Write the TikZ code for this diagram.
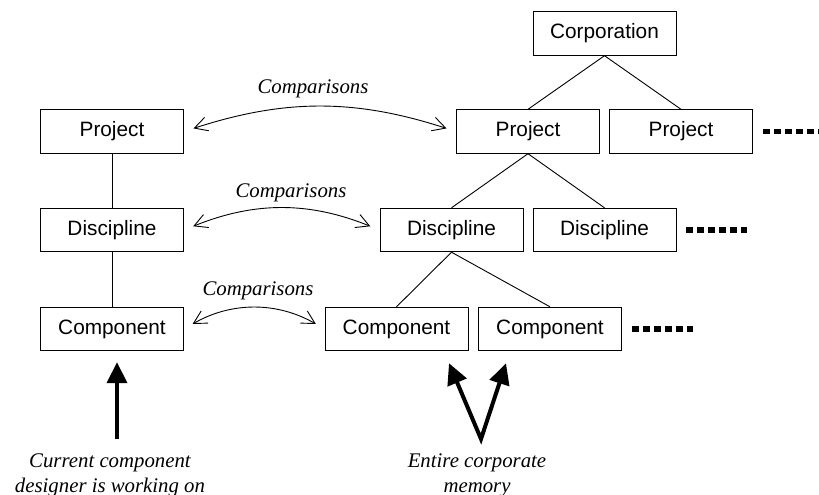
\documentclass[tikz,border=0pt]{standalone}
\usepackage{fontspec}
\setmainfont{Liberation Serif}
\setsansfont{Liberation Sans}
\usetikzlibrary{arrows.meta}

\begin{document}
\begin{tikzpicture}[x=1pt,y=-1pt,
    box/.style={draw,line width=0.9pt,minimum width=143pt,minimum height=43.5pt,
      inner sep=0pt,font=\sffamily\fontsize{20.8}{25}\selectfont},
    lbl/.style={font=\itshape\fontsize{20.8}{25}\selectfont,anchor=base},
    cmp/.style={line width=0.9pt,
      {Straight Barb[length=13pt,width=14pt]}-{Straight Barb[length=13pt,width=14pt]},
      shorten <=10pt,shorten >=10pt},
    bigarrow/.style={line width=4pt,line join=miter},
    dotrow/.style={line width=5.5pt,dash pattern=on 6.5pt off 4.4pt}]
    \useasboundingbox (0,0) rectangle (819,495);
    % left column: the one being worked on
    \node[box] (lproj) at (112,131.5) {Project};
    \node[box] (ldisc) at (112,230) {Discipline};
    \node[box] (lcomp) at (112,329) {Component};
    \draw[line width=0.9pt] (lproj) -- (ldisc) -- (lcomp);
    % corporate tree
    \node[box] (corp) at (604.5,33.5) {Corporation};
    \node[box] (proj1) at (528,131.5) {Project};
    \node[box] (proj2) at (681,131.5) {Project};
    \node[box] (disc1) at (451.5,230) {Discipline};
    \node[box] (disc2) at (604.5,230) {Discipline};
    \node[box] (comp1) at (396.5,329) {Component};
    \node[box] (comp2) at (550,329) {Component};
    \foreach \a/\b in {corp/proj1,corp/proj2,proj1/disc1,proj1/disc2,disc1/comp1,disc1/comp2}
    \draw[line width=0.9pt] (\a.south) -- (\b.north);
    \draw[dotrow] ([xshift=10.5pt]proj2.east) -- +(56,0);
    \draw[dotrow] ([xshift=10pt]disc2.east) -- +(61,0);
    \draw[dotrow] ([xshift=10.5pt]comp2.east) -- +(61,0);
    % comparisons
    \draw[cmp] (lproj.east) to[bend left=18] (proj1.west);
    \draw[cmp] (ldisc.east) to[bend left=22] (disc1.west);
    \draw[cmp] (lcomp.east) to[bend left=30] (comp1.west);
    \node[lbl] (cmptop) at (313,93) {Comparisons};
    \node[lbl] (cmpmid) at (291,197) {Comparisons};
    \node[lbl] (cmpbot) at (258,295) {Comparisons};
    % pointers from below
    \coordinate (cur) at (117,439);
    \coordinate (mem) at (481,439);
    \draw[bigarrow,-{Triangle[length=21pt,width=20pt]}] (cur) -- ([shift={(5pt,-11pt)}]lcomp.south);
    \draw[bigarrow,{Triangle[length=21pt,width=20pt]}-{Triangle[length=21pt,width=20pt]}]
      ([shift={(52.5pt,-12pt)}]comp1.south) -- (mem) -- ([shift={(-44pt,-12pt)}]comp2.south);
    \node[lbl,align=center] (curtxt) at (110,492) {Current component\\designer is working on};
    \node[lbl,align=center] (memtxt) at (477,492) {Entire corporate\\memory};
\end{tikzpicture}
\end{document}
